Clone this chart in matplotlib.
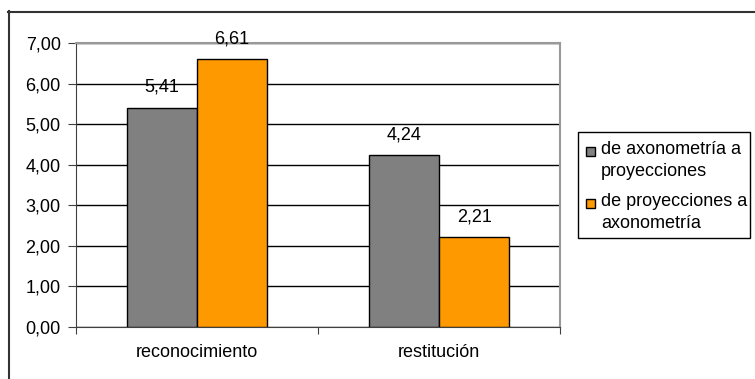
import matplotlib
matplotlib.use("Agg")
import matplotlib.pyplot as plt
import matplotlib.patches as mpatches
from matplotlib.lines import Line2D
from matplotlib.ticker import FuncFormatter, FixedLocator

plt.rcParams['font.family'] = ['Liberation Sans', 'DejaVu Sans']

categories = ["reconocimiento", "restitución"]
series_names = [["de axonometría a", "proyecciones"], ["de proyecciones a", "axonometría"]]
axo_to_proj = [5.41, 4.24]
proj_to_axo = [6.61, 2.21]
colors = ["#808080", "#FF9900"]

W, H = 755, 379
fs = 13
fig = plt.figure(figsize=(W / 100, H / 100), dpi=100)

# plot area in pixel terms
left, right, top, bottom = 76, 560, 43, 327
ax = fig.add_axes([left / W, 1 - bottom / H, (right - left) / W, (bottom - top) / H])

x = list(range(len(categories)))
bw = 0.29
all_series = [axo_to_proj, proj_to_axo]
for i, vals in enumerate(all_series):
    pos = [xi + (i - 0.5) * bw for xi in x]
    bars = ax.bar(pos, vals, width=bw, color=colors[i], edgecolor="black",
                  linewidth=1, zorder=3)
    for b, v in zip(bars, vals):
        ax.annotate(f"{v:.2f}".replace(".", ","),
                    (b.get_x() + b.get_width() / 2, v),
                    xytext=(0, 14.5), textcoords="offset points",
                    ha="center", va="center", fontsize=fs)

ax.set_xlim(-0.5, 1.5)
ax.set_ylim(0, 7)
ax.set_yticks(range(0, 8))
ax.yaxis.set_major_formatter(FuncFormatter(lambda v, p: f"{v:.2f}".replace(".", ",")))
ax.grid(axis="y", color="black", linewidth=1, zorder=0)
ax.set_axisbelow(True)

# category ticks on boundaries, labels in the middle
ax.xaxis.set_major_locator(FixedLocator([-0.5, 0.5, 1.5]))
ax.xaxis.set_minor_locator(FixedLocator(x))
ax.set_xticklabels([])
ax.set_xticklabels(categories, minor=True)
ax.tick_params(axis="x", which="major", direction="out", length=5, color="#404040")
ax.tick_params(axis="x", which="minor", length=0, pad=12, labelsize=fs)
ax.tick_params(axis="y", direction="out", length=6, pad=5, labelsize=fs, color="#404040")

for side in ["left", "bottom"]:
    ax.spines[side].set_color("#404040")
for side in ["top", "right"]:
    ax.spines[side].set_color("#999999")
    ax.spines[side].set_linewidth(1.5)

# outer chart frame (left and top edges)
fig.add_artist(Line2D([8.5 / W, 8.5 / W], [0, 1 - 11 / H], transform=fig.transFigure,
                      color="#333333", linewidth=1.5))
fig.add_artist(Line2D([8 / W, 1], [1 - 11.5 / H, 1 - 11.5 / H], transform=fig.transFigure,
                      color="#333333", linewidth=1.5))

# legend box
lx0, ly0, lx1, ly1 = 578, 132, 750, 238
fig.add_artist(mpatches.Rectangle((lx0 / W, 1 - ly1 / H), (lx1 - lx0) / W, (ly1 - ly0) / H,
                                  transform=fig.transFigure, facecolor="white",
                                  edgecolor="black", linewidth=1))
line_y = [[150, 172], [202, 223]]
for i, lines in enumerate(series_names):
    fig.add_artist(mpatches.Rectangle((586 / W, 1 - (line_y[i][0] + 5.5) / H), 9 / W, 9 / H,
                                      transform=fig.transFigure, facecolor=colors[i],
                                      edgecolor="black", linewidth=1))
    for txt, yy in zip(lines, line_y[i]):
        fig.text(601 / W, 1 - yy / H, txt, ha="left", va="center", fontsize=fs)

fig.savefig("out.png", dpi=100)
